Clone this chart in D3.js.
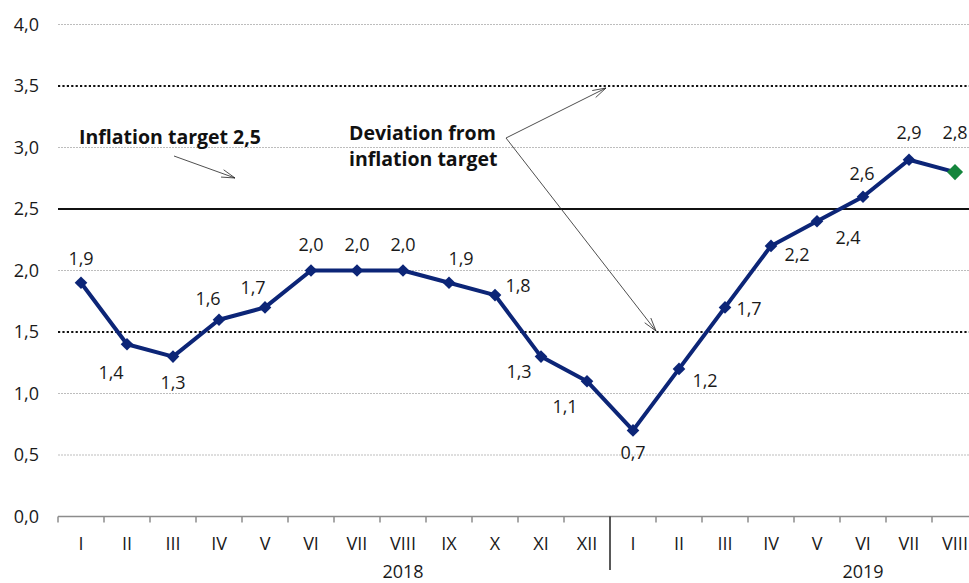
<!DOCTYPE html>
<html><head><meta charset="utf-8">
<script src="https://cdn.jsdelivr.net/npm/d3@7"></script>
<style>
html,body{margin:0;padding:0;background:#fff;overflow:hidden}
svg{display:block;font-family:"Open Sans",sans-serif}
</style></head>
<body>
<svg id="c" width="969" height="583"></svg>
<script>
const months = ["I","II","III","IV","V","VI","VII","VIII","IX","X","XI","XII","I","II","III","IV","V","VI","VII","VIII"];
const keys = months.map((m,i)=> (i<12?"2018-":"2019-")+m);
const inflation = [1.9,1.4,1.3,1.6,1.7,2.0,2.0,2.0,1.9,1.8,1.3,1.1,0.7,1.2,1.7,2.2,2.4,2.6,2.9,2.8];
const yTicks = [0,0.5,1.0,1.5,2.0,2.5,3.0,3.5,4.0];
const targetValue = 2.5;
const bandValues = [1.5,3.5];
const years = ["2018","2019"];
const yearAnchorKeys = ["2018-VIII","2019-VI"];
// label offsets (dx, dy) relative to each point
const labelOffsets = [[0,-25],[-16,28],[0,25],[-11,-22],[-12,-20],[0,-27],[0,-27],[0,-27],[12,-25],[23,-10],[-22,14],[-22,25],[0,22],[26,11],[24,1],[26,8],[31,16],[-1,-24],[0,-28],[0,-40]];

const fmt = v => d3.format(".1f")(v).replace(".", ",");
const svg = d3.select("#c");
const x = d3.scaleBand().domain(keys).range([58, 978]);
const y = d3.scaleLinear().domain([0, 4]).range([516.5, 24.5]);
const FS = 18;

// light gridlines
svg.append("g").selectAll("line").data(yTicks.filter(v=>v>0 && v!==targetValue && !bandValues.includes(v)))
  .join("line").attr("x1",58).attr("x2",969).attr("y1",d=>y(d)).attr("y2",d=>y(d))
  .attr("stroke","#bdbdbd").attr("stroke-width",1).attr("stroke-dasharray","2,1");

// y-axis labels
const yAxis = d3.axisLeft(y).tickValues(yTicks).tickFormat(fmt).tickSize(0).tickPadding(0);
const ya = svg.append("g").attr("transform","translate(39,0)").call(yAxis);
ya.select(".domain").remove();
ya.selectAll("text").attr("font-size",FS).attr("fill","#1a1a1a").attr("font-family","Open Sans");

// band lines
svg.append("g").selectAll("line").data(bandValues).join("line")
  .attr("x1",58).attr("x2",969).attr("y1",d=>y(d)).attr("y2",d=>y(d))
  .attr("stroke","#111").attr("stroke-width",2.2).attr("stroke-dasharray","2.2,2.2");
// target line
svg.append("line").attr("x1",58).attr("x2",969).attr("y1",y(targetValue)).attr("y2",y(targetValue))
  .attr("stroke","#111").attr("stroke-width",2.2);

// x axis
const xa = svg.append("g").attr("transform",`translate(0,${y(0)})`)
  .call(d3.axisBottom(x).tickFormat((d,i)=>months[i]).tickSize(0).tickPadding(21));
xa.select(".domain").attr("stroke","#8c8c8c").attr("stroke-width",1.5).attr("d","M58,0H969");
xa.selectAll("text").attr("font-size",FS).attr("fill","#1a1a1a").attr("font-family","Open Sans");
// tick marks at band boundaries
const bounds = keys.map(k=>x(k)).concat([x.range()[1]]);
svg.append("g").selectAll("line").data(bounds.filter((b,i)=>i!==12)).join("line")
  .attr("x1",d=>d).attr("x2",d=>d).attr("y1",y(0)).attr("y2",y(0)+6)
  .attr("stroke","#8c8c8c").attr("stroke-width",1.5);
// year divider
svg.append("line").attr("x1",x(keys[12])).attr("x2",x(keys[12])).attr("y1",y(0)).attr("y2",570)
  .attr("stroke","#222").attr("stroke-width",1.5);
// year labels
svg.append("g").selectAll("text").data(years).join("text")
  .attr("x",(d,i)=>x(yearAnchorKeys[i])+x.bandwidth()/2).attr("y",578)
  .attr("text-anchor","middle").attr("font-size",FS).attr("fill","#1a1a1a").text(d=>d);

// line
const cx = i => x(keys[i]) + x.bandwidth()/2;
svg.append("path").datum(inflation)
  .attr("d", d3.line().x((d,i)=>cx(i)).y(d=>y(d)))
  .attr("fill","none").attr("stroke","#0c2577").attr("stroke-width",4).attr("stroke-linejoin","round");

// markers
const last = inflation.length-1;
svg.append("g").selectAll("path").data(inflation).join("path")
  .attr("transform",(d,i)=>`translate(${cx(i)},${y(d)}) rotate(45)`)
  .attr("d",(d,i)=>d3.symbol(d3.symbolSquare, i===last?130:80)())
  .attr("fill",(d,i)=>i===last?"#14853c":"#0c2577");

// data labels
svg.append("g").selectAll("text").data(inflation).join("text")
  .attr("x",(d,i)=>cx(i)+labelOffsets[i][0]).attr("y",(d,i)=>y(d)+labelOffsets[i][1])
  .attr("text-anchor","middle").attr("dominant-baseline","central")
  .attr("font-size",FS).attr("fill","#1a1a1a").text(fmt);

// annotations
const ann = svg.append("g").attr("font-weight","bold").attr("font-size",19.5).attr("fill","#111");
ann.append("text").attr("x",79).attr("y",144).text("Inflation target 2,5");
ann.append("text").attr("x",349).attr("y",140).text("Deviation from");
ann.append("text").attr("x",349).attr("y",166).text("inflation target");

function arrow(x1,y1,x2,y2){
  svg.append("line").attr("x1",x1).attr("y1",y1).attr("x2",x2).attr("y2",y2).attr("stroke","#222").attr("stroke-width",0.8);
  const a = Math.atan2(y2-y1,x2-x1), L=14, s=0.28;
  [a+Math.PI-s, a+Math.PI+s].forEach(t=>{
    svg.append("line").attr("x1",x2).attr("y1",y2).attr("x2",x2+L*Math.cos(t)).attr("y2",y2+L*Math.sin(t))
      .attr("stroke","#222").attr("stroke-width",0.8);
  });
}
arrow(174,156,235,178);
arrow(506,138,606,88);
arrow(506,138,656,331);
</script>
</body></html>
